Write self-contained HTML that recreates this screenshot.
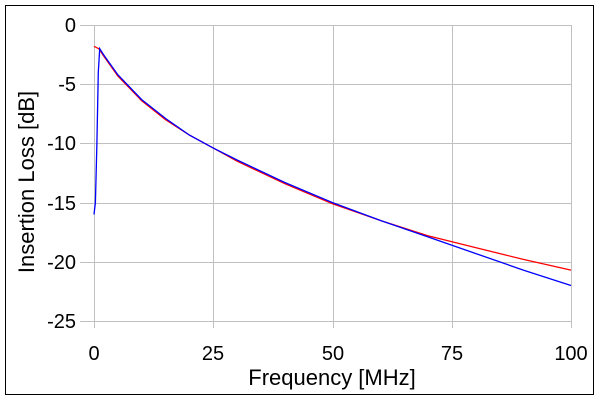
<!DOCTYPE html><html><head><style>body{margin:0;background:#fff}svg{display:block;font-family:"Liberation Sans",sans-serif}</style></head><body>
<svg id="s" width="600" height="400" xmlns="http://www.w3.org/2000/svg">
<rect x="0" y="0" width="600" height="400" fill="#fff"/>
<rect x="5.5" y="5.5" width="588" height="389" fill="none" stroke="#000" stroke-width="1"/>
<g stroke="#c0c0c0" stroke-width="1" fill="none">
<line x1="94.5" y1="25" x2="94.5" y2="328"/>
<line x1="213.5" y1="25" x2="213.5" y2="328"/>
<line x1="333.5" y1="25" x2="333.5" y2="328"/>
<line x1="452.5" y1="25" x2="452.5" y2="328"/>
<line x1="571.5" y1="25" x2="571.5" y2="328"/>
<line x1="80" y1="25.5" x2="571" y2="25.5"/>
<line x1="80" y1="84.5" x2="571" y2="84.5"/>
<line x1="80" y1="143.5" x2="571" y2="143.5"/>
<line x1="80" y1="203.5" x2="571" y2="203.5"/>
<line x1="80" y1="262.5" x2="571" y2="262.5"/>
<line x1="80" y1="321.5" x2="571" y2="321.5"/>
</g>
<g font-size="20" fill="#000" text-anchor="end">
<text x="76" y="32">0</text><text x="76" y="91">-5</text><text x="76" y="150">-10</text>
<text x="76" y="210">-15</text><text x="76" y="269">-20</text><text x="76" y="328">-25</text>
</g>
<g font-size="20" fill="#000" text-anchor="middle">
<text x="94" y="360">0</text><text x="213" y="360">25</text><text x="333" y="360">50</text><text x="452" y="360">75</text><text x="571" y="360">100</text>
</g>
<text x="332" y="385" font-size="22" text-anchor="middle">Frequency [MHz]</text>
<text font-size="22" text-anchor="middle" transform="translate(34,182) rotate(-90)">Insertion Loss [dB]</text>
<polyline id="r" fill="none" stroke="#f00" stroke-width="1.3"/>
<polyline id="b" fill="none" stroke="#00f" stroke-width="1.3"/>
</svg>
<script>
function P(a){return a.map(p=>(94+4.77*p[0]).toFixed(1)+","+(25+11.84*(-p[1])).toFixed(1)).join(" ")}
var red=[[0,-1.8],[1,-2.0],[2,-2.6],[5,-4.3],[10,-6.4],[15,-8.0],[20,-9.3],[25,-10.4],[30,-11.5],[40,-13.4],[50,-15.1],[60,-16.5],[70,-17.8],[80,-18.8],[90,-19.8],[100,-20.7]];
var blue=[[0,-16],[0.3,-15],[0.6,-10],[0.9,-4],[1.2,-2.0],[2,-2.5],[5,-4.2],[10,-6.3],[15,-7.9],[20,-9.3],[25,-10.4],[30,-11.4],[40,-13.3],[50,-15.0],[60,-16.5],[70,-17.9],[80,-19.3],[90,-20.7],[100,-22.0]];
document.getElementById("r").setAttribute("points",P(red));
document.getElementById("b").setAttribute("points",P(blue));
</script>
</body></html>
